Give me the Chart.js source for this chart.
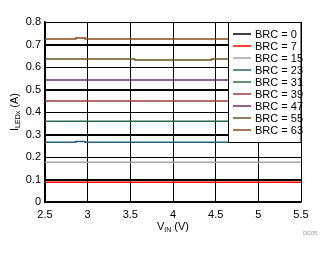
<!DOCTYPE html>
<html>
<head>
<meta charset="utf-8">
<script src="https://cdn.jsdelivr.net/npm/chart.js@4"></script>
<style>
  html, body { margin: 0; padding: 0; background: #fff; }
  #wrap { width: 329px; height: 254px; position: relative; }
</style>
</head>
<body>
<div id="wrap"><canvas id="grafik"></canvas></div>
<script>
const brcLabels = ["BRC = 0", "BRC = 7", "BRC = 15", "BRC = 23", "BRC = 31", "BRC = 39", "BRC = 47", "BRC = 55", "BRC = 63"];
const brcColors = ["#000000", "#ff0000", "#a6a6a6", "#2a5f75", "#2f6a4c", "#9b3c3c", "#6a2c68", "#6b5222", "#8a4a1a"];

// VIN points and ILED values for each BRC code
const vFlat = [2.5, 5.5];
const vBlip = [2.5, 2.86, 2.86, 2.97, 2.97, 5.5];
const vDip = [2.5, 3.55, 3.55, 4.45, 4.45, 5.5];

const brc0 = [0, 0];
const brc7 = [0.088, 0.088];
const brc15 = [0.177, 0.177];
const brc23 = [0.266, 0.266, 0.269, 0.269, 0.266, 0.266];
const brc31 = [0.359, 0.359];
const brc39 = [0.449, 0.449];
const brc47 = [0.542, 0.542];
const brc55 = [0.636, 0.636, 0.631, 0.631, 0.636, 0.636];
const brc63 = [0.725, 0.725, 0.729, 0.729, 0.725, 0.725];

const xTickLabels = ["2.5", "3", "3.5", "4", "4.5", "5", "5.5"];
const yTickLabels = ["0", "0.1", "0.2", "0.3", "0.4", "0.5", "0.6", "0.7", "0.8"];

const seriesV = [vFlat, vFlat, vFlat, vBlip, vFlat, vFlat, vFlat, vDip, vBlip];
const seriesI = [brc0, brc7, brc15, brc23, brc31, brc39, brc47, brc55, brc63];

const FONT = "'Liberation Sans', Arial, sans-serif";

function buatData(vs, is) {
  return vs.map((v, i) => ({ x: v, y: is[i] }));
}

const datasets = brcLabels.map((label, k) => ({
  label: label,
  data: buatData(seriesV[k], seriesI[k]),
  borderColor: brcColors[k],
  backgroundColor: brcColors[k],
  borderWidth: 1.5,
  pointRadius: 0,
  showLine: true,
  fill: false
}));

// horizontal grid lines, drawn from the y scale ticks
const garisGrid = {
  id: "garisGrid",
  beforeDatasetsDraw(chart) {
    const ctx = chart.ctx;
    const area = chart.chartArea;
    const sy = chart.scales.y;
    ctx.save();
    ctx.strokeStyle = "#000";
    ctx.lineWidth = 1;
    sy.ticks.forEach((t) => {
      const y = Math.round(sy.getPixelForValue(t.value)) + 0.5;
      ctx.beginPath();
      ctx.moveTo(area.left, y);
      ctx.lineTo(area.right, y);
      ctx.stroke();
    });
    ctx.restore();
  }
};

// legend box, axis titles with subscripts, and the small figure id
const gambarTeks = {
  id: "gambarTeks",
  afterDatasetsDraw(chart) {
    const ctx = chart.ctx;
    const area = chart.chartArea;
    ctx.save();

    // legend
    const lx = 228, ly = 22.5, lw = area.right - 228, lh = 120;
    ctx.fillStyle = "#fff";
    ctx.fillRect(lx, ly, lw, lh);
    ctx.strokeStyle = "#000";
    ctx.lineWidth = 1;
    ctx.strokeRect(lx + 0.5, ly, lw - 0.5, lh);
    ctx.font = "11px " + FONT;
    ctx.textBaseline = "middle";
    chart.data.datasets.forEach((ds, k) => {
      const y = 34 + k * 12;
      ctx.strokeStyle = ds.borderColor;
      ctx.lineWidth = 1.5;
      ctx.beginPath();
      ctx.moveTo(233, y);
      ctx.lineTo(251, y);
      ctx.stroke();
      ctx.fillStyle = "#000";
      ctx.fillText(ds.label, 255, y + 0.5);
    });

    // x title: V_IN (V)
    ctx.fillStyle = "#000";
    ctx.textBaseline = "alphabetic";
    const cx = (area.left + area.right) / 2;
    ctx.font = "11px " + FONT;
    const wV = ctx.measureText("V").width;
    const wRest = ctx.measureText(" (V)").width;
    ctx.font = "7px " + FONT;
    const wSub = ctx.measureText("IN").width;
    let x0 = cx - (wV + wSub + wRest) / 2;
    ctx.font = "11px " + FONT;
    ctx.fillText("V", x0, 230);
    ctx.font = "7px " + FONT;
    ctx.fillText("IN", x0 + wV, 232);
    ctx.font = "11px " + FONT;
    ctx.fillText(" (V)", x0 + wV + wSub, 230);

    // y title: I_LEDx (A)
    ctx.translate(18, (area.top + area.bottom) / 2);
    ctx.rotate(-Math.PI / 2);
    ctx.font = "11px " + FONT;
    const wI = ctx.measureText("I").width;
    const wA = ctx.measureText(" (A)").width;
    ctx.font = "7px " + FONT;
    const wLed = ctx.measureText("LEDx").width;
    x0 = -(wI + wLed + wA) / 2;
    ctx.font = "11px " + FONT;
    ctx.fillText("I", x0, 0);
    ctx.font = "7px " + FONT;
    ctx.fillText("LEDx", x0 + wI, 2);
    ctx.font = "11px " + FONT;
    ctx.fillText(" (A)", x0 + wI + wLed, 0);
    ctx.restore();

    ctx.save();
    ctx.font = "6px " + FONT;
    ctx.fillStyle = "#9a9a9a";
    ctx.fillText("D005", 303, 235);
    ctx.restore();
  }
};

new Chart(document.getElementById("grafik"), {
  type: "scatter",
  data: { datasets: datasets },
  options: {
    responsive: true,
    maintainAspectRatio: false,
    animation: false,
    layout: { padding: { top: 22, right: 28, left: 0, bottom: 0 } },
    plugins: { legend: { display: false }, tooltip: { enabled: false } },
    scales: {
      x: {
        type: "linear",
        min: 2.5,
        max: 5.5,
        afterFit: (s) => { s.height = 52; },
        grid: { color: "#000", lineWidth: 1, drawTicks: false },
        border: { color: "#000", width: 1.5 },
        ticks: {
          stepSize: 0.5,
          color: "#000",
          padding: 6,
          font: { family: FONT, size: 11 },
          callback: (v, i) => xTickLabels[i]
        }
      },
      y: {
        type: "linear",
        min: 0,
        max: 0.8,
        afterFit: (s) => { s.width = 45; },
        grid: { color: "#000", lineWidth: 1, drawTicks: false },
        border: { color: "#000", width: 1.5 },
        ticks: {
          stepSize: 0.1,
          color: "#000",
          padding: 4,
          font: { family: FONT, size: 11 },
          callback: (v, i) => yTickLabels[i]
        }
      }
    }
  },
  plugins: [garisGrid, gambarTeks]
});
</script>
</body>
</html>
